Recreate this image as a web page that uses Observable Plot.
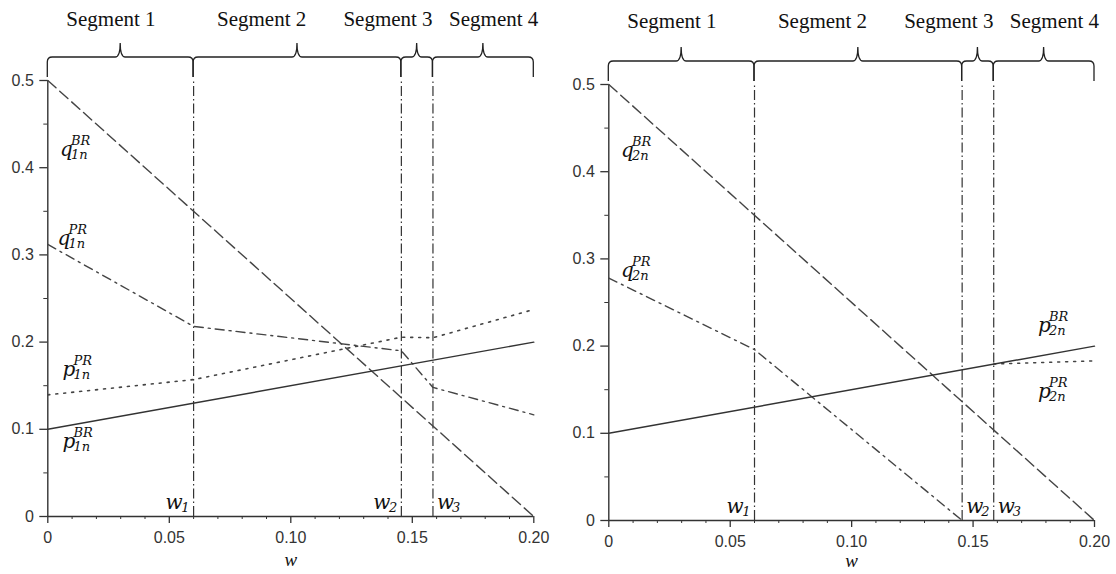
<!DOCTYPE html>
<html><head><meta charset="utf-8">
<script src="https://cdn.jsdelivr.net/npm/d3@7"></script>
<script src="https://cdn.jsdelivr.net/npm/@observablehq/plot@0.6"></script>
<style>
body{margin:0;background:#fff;}
#wrap{display:flex;width:1116px;height:574px;overflow:hidden;}
</style></head><body><div id="wrap"></div>
<script>
// ---------- axes ----------
const xTicks = [0, 0.05, 0.10, 0.15, 0.20];
const xTickLabels = ["0", "0.05", "0.10", "0.15", "0.20"];
const xMinorTicks = [0.01,0.02,0.03,0.04,0.06,0.07,0.08,0.09,0.11,0.12,0.13,0.14,0.16,0.17,0.18,0.19];
const yTicks = [0, 0.1, 0.2, 0.3, 0.4, 0.5];
const yTickLabels = ["0", "0.1", "0.2", "0.3", "0.4", "0.5"];
const yMinorTicks = [0.05, 0.15, 0.25, 0.35, 0.45];
const xLabel = "w";

// ---------- thresholds and segments ----------
const wBreaks = [0.06, 0.1455, 0.1585];          // w1, w2, w3
const wSubs = ["1", "2", "3"];
const segmentBounds = [0, 0.06, 0.1455, 0.1585, 0.2];
const segmentNames = ["Segment 1", "Segment 2", "Segment 3", "Segment 4"];
const segmentLabelX = [0.026, 0.088, 0.140, 0.1835];

// ---------- left panel (retailer 1) ----------
const brW = [0, 0.2];
const q1BR = [0.5, 0];
const p1BR = [0.1, 0.2];
const q1PRw = [0, 0.06, 0.1455, 0.1585, 0.2];
const q1PR = [0.312, 0.218, 0.190, 0.148, 0.1166];
const p1PRw = [0, 0.06, 0.1455, 0.1585, 0.2];
const p1PR = [0.1395, 0.157, 0.2056, 0.205, 0.2374];
const labels1 = [
  {x: 0.005, y: 0.413, base: "q", sup: "BR", sub: "1n"},
  {x: 0.004, y: 0.311, base: "q", sup: "PR", sub: "1n"},
  {x: 0.006, y: 0.161, base: "p", sup: "PR", sub: "1n"},
  {x: 0.006, y: 0.079, base: "p", sup: "BR", sub: "1n"}
];
const wSide1 = ["left", "left", "right"];

// ---------- right panel (retailer 2) ----------
const q2BR = [0.5, 0];
const p2BR = [0.1, 0.2];
const q2PRw = [0, 0.06, 0.1455];
const q2PR = [0.278, 0.196, 0];
const p2PRw = [0.1585, 0.2];
const p2PR = [0.1795, 0.183];
const labels2 = [
  {x: 0.005, y: 0.417, base: "q", sup: "BR", sub: "2n"},
  {x: 0.005, y: 0.279, base: "q", sup: "PR", sub: "2n"},
  {x: 0.1767, y: 0.216, base: "p", sup: "BR", sub: "2n"},
  {x: 0.1767, y: 0.140, base: "p", sup: "PR", sub: "2n"}
];
const wSide2 = ["left", "right", "right"];

// ---------- styles ----------
const INK = "#333";
const DASH_BR = "11,5";
const DASH_PR = "9,5,2,5";
const DOT_PR = "2,6";
const DASH_W = "10,3,1.5,3";
const mathFont = "DejaVu Serif";

function braceMark(bounds) {
  return (index, scales, values, dims) => {
    const t = dims.marginTop;
    const yb = t - 3, yh = t - 23, yc = t - 37, r = 5;
    const g = d3.create("svg:g").attr("fill", "none").attr("stroke", "#222").attr("stroke-width", 1.3);
    for (let i = 0; i < bounds.length - 1; i++) {
      const x0 = scales.x(bounds[i]), x1 = scales.x(bounds[i + 1]), xm = (x0 + x1) / 2;
      const rr = Math.min(r, (xm - x0) / 2);
      g.append("path").attr("d",
        `M${x0},${yb}L${x0},${yh + rr}Q${x0},${yh} ${x0 + rr},${yh}L${xm - rr},${yh}` +
        `Q${xm},${yh} ${xm},${yc}Q${xm},${yh} ${xm + rr},${yh}L${x1 - rr},${yh}` +
        `Q${x1},${yh} ${x1},${yh + rr}L${x1},${yb}`);
    }
    return g.node();
  };
}

function curveLabels(labels) {
  const common = {x: "x", y: "y", textAnchor: "start", lineAnchor: "bottom", fontFamily: mathFont, fontStyle: "italic", fill: "#111"};
  return [
    Plot.text(labels, {...common, text: "base", fontSize: 20}),
    Plot.text(labels, {...common, text: "sup", fontSize: 13, dx: 11, dy: -11}),
    Plot.text(labels, {...common, text: "sub", fontSize: 13, dx: 11, dy: 3})
  ];
}

function wLabels(sides) {
  const rows = wBreaks.map((w, i) => ({x: w, y: 0.009, sub: wSubs[i], side: sides[i]}));
  const L = rows.filter(d => d.side === "left"), R = rows.filter(d => d.side === "right");
  const c = {x: "x", y: "y", lineAnchor: "bottom", fontFamily: mathFont, fontStyle: "italic", fill: "#111"};
  return [
    Plot.text(L, {...c, text: () => "w", textAnchor: "end", dx: -11, fontSize: 20}),
    Plot.text(L, {...c, text: "sub", textAnchor: "end", dx: -4, dy: 3, fontSize: 13}),
    Plot.text(R, {...c, text: () => "w", textAnchor: "start", dx: 4, fontSize: 20}),
    Plot.text(R, {...c, text: "sub", textAnchor: "start", dx: 19, dy: 3, fontSize: 13})
  ];
}

function panel(cfg) {
  return Plot.plot({
    width: 558, height: 574,
    marginLeft: cfg.ml, marginRight: cfg.mr, marginTop: cfg.mt, marginBottom: cfg.mb,
    x: {domain: [0, 0.2], axis: null},
    y: {domain: [0, 0.5], axis: null},
    style: {fontFamily: "Liberation Sans", background: "white", color: INK, overflow: "visible"},
    marks: [
      // axis lines and ticks
      Plot.ruleY([0], {x1: 0, x2: 0.2, stroke: INK, strokeWidth: 1.4}),
      Plot.ruleX([0], {y1: 0, y2: 0.5, stroke: INK, strokeWidth: 1.4}),
      Plot.axisX({ticks: xTicks, tickFormat: d => xTickLabels[xTicks.indexOf(d)], tickSize: 7, tickPadding: 8, fontSize: 16, label: null, stroke: INK, fill: INK, strokeWidth: 1.3}),
      Plot.axisX({ticks: xMinorTicks, tickFormat: () => "", tickSize: 3, label: null, stroke: INK}),
      Plot.axisY({ticks: yTicks, tickFormat: d => yTickLabels[yTicks.indexOf(d)], tickSize: 8, tickPadding: 6, fontSize: 16, label: null, stroke: INK, fill: INK, strokeWidth: 1.3}),
      Plot.axisY({ticks: yMinorTicks, tickFormat: () => "", tickSize: 4, label: null, stroke: INK}),
      Plot.text([xLabel], {x: 0.1, frameAnchor: "bottom", dy: cfg.wDy, text: d => d, fontFamily: "Liberation Serif", fontStyle: "italic", fontSize: 19, lineAnchor: "bottom", fill: "#111"}),
      // threshold lines
      Plot.ruleX(wBreaks, {y1: 0, y2: 0.5, stroke: INK, strokeWidth: 1.2, strokeDasharray: DASH_W}),
      // series
      ...cfg.lines,
      // braces and segment names
      braceMark(segmentBounds),
      Plot.text(segmentNames, {x: segmentLabelX, frameAnchor: "top", dy: cfg.segDy, text: d => d, fontFamily: "Liberation Serif", fontSize: 21, lineAnchor: "bottom", fill: "#111"}),
      ...curveLabels(cfg.labels),
      ...wLabels(cfg.wSides)
    ]
  });
}

const left = panel({
  ml: 47.3, mr: 24.7, mt: 80, mb: 58, segDy: -55, wDy: 49,
  labels: labels1, wSides: wSide1,
  lines: [
    Plot.line(q1BR, {x: brW, y: q1BR, stroke: "#444", strokeWidth: 1.4, strokeDasharray: DASH_BR}),
    Plot.line(q1PR, {x: q1PRw, y: q1PR, stroke: "#444", strokeWidth: 1.4, strokeDasharray: DASH_PR}),
    Plot.line(p1PR, {x: p1PRw, y: p1PR, stroke: "#444", strokeWidth: 1.6, strokeDasharray: DOT_PR}),
    Plot.line(p1BR, {x: brW, y: p1BR, stroke: "#333", strokeWidth: 1.4})
  ]
});
const right = panel({
  ml: 50.3, mr: 22, mt: 84, mb: 54, segDy: -57, wDy: 46,
  labels: labels2, wSides: wSide2,
  lines: [
    Plot.line(q2BR, {x: brW, y: q2BR, stroke: "#444", strokeWidth: 1.4, strokeDasharray: DASH_BR}),
    Plot.line(q2PR, {x: q2PRw, y: q2PR, stroke: "#444", strokeWidth: 1.4, strokeDasharray: DASH_PR}),
    Plot.line(p2PR, {x: p2PRw, y: p2PR, stroke: "#444", strokeWidth: 1.6, strokeDasharray: DOT_PR}),
    Plot.line(p2BR, {x: brW, y: p2BR, stroke: "#333", strokeWidth: 1.4})
  ]
});
document.getElementById("wrap").append(left, right);
</script>
</body></html>
